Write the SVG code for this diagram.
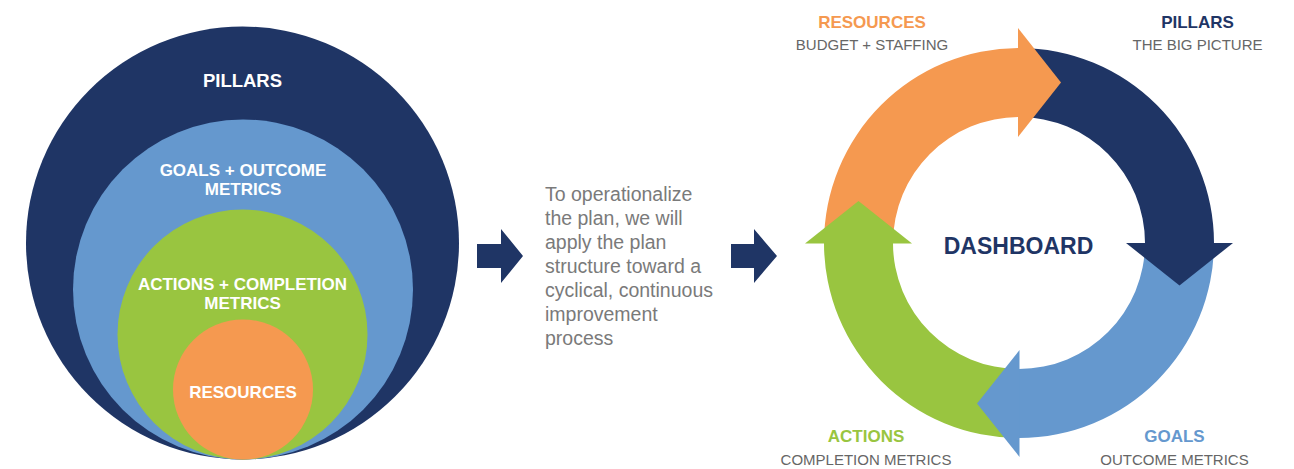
<svg xmlns="http://www.w3.org/2000/svg" width="1294" height="469" viewBox="0 0 1294 469">
  <style>
    .navy { fill: #1f3565; }
    .blue { fill: #6598ce; }
    .green { fill: #99c540; }
    .orange { fill: #f59950; }
    .in { font-family: "Liberation Sans", Arial, sans-serif; font-weight: bold; fill: #ffffff; text-anchor: middle; font-size: 17px; }
    .body { font-family: "Liberation Sans", Arial, sans-serif; font-size: 19.5px; fill: #7a7a7a; }
    .head { font-family: "Liberation Sans", Arial, sans-serif; font-weight: bold; font-size: 17px; text-anchor: middle; }
    .sub { font-family: "Liberation Sans", Arial, sans-serif; font-size: 15px; fill: #666666; text-anchor: middle; }
  </style>
  <rect width="1294" height="469" fill="#ffffff"/>

  <!-- Nested plan structure -->
  <g id="nest-pillars">
    <circle class="navy" cx="242.5" cy="243" r="216.5"/>
    <text class="in" x="242.5" y="87" style="font-size:18.5px">PILLARS</text>
  </g>
  <g id="nest-goals">
    <circle class="blue" cx="243" cy="289.5" r="170"/>
    <text class="in" x="243" y="175.5">GOALS + OUTCOME</text>
    <text class="in" x="243" y="195">METRICS</text>
  </g>
  <g id="nest-actions">
    <circle class="green" cx="242.5" cy="334.5" r="125"/>
    <text class="in" x="242.5" y="290">ACTIONS + COMPLETION</text>
    <text class="in" x="242.5" y="309">METRICS</text>
  </g>
  <g id="nest-resources">
    <circle class="orange" cx="243" cy="389.5" r="70"/>
    <text class="in" x="243" y="398">RESOURCES</text>
  </g>

  <!-- Flow arrows and explanation -->
  <g id="connectors">
    <polygon class="navy" points="477,244 501,244 501,229 523,256 501,283 501,268 477,268"/>
    <polygon class="navy" points="731,244 754,244 754,229 777,256 754,283 754,268 731,268"/>
  </g>
  <g id="explanation">
    <text class="body" x="545" y="200.5">To operationalize</text>
    <text class="body" x="545" y="224.5">the plan, we will</text>
    <text class="body" x="545" y="248.5">apply the plan</text>
    <text class="body" x="545" y="272.5">structure toward a</text>
    <text class="body" x="545" y="296.5">cyclical, continuous</text>
    <text class="body" x="545" y="320.5">improvement</text>
    <text class="body" x="545" y="344.5">process</text>
  </g>

  <!-- Continuous improvement cycle: ring quarters, then arrowheads on top -->
  <g id="cycle">
    <path class="orange" d="M824,243 A195,195 0 0 1 1019,48 L1019,117 A126,126 0 0 0 893,243 Z"/>
    <path class="navy" d="M1019,48 A195,195 0 0 1 1214,243 L1145,243 A126,126 0 0 0 1019,117 Z"/>
    <path class="blue" d="M1214,243 A195,195 0 0 1 1019,438 L1019,369 A126,126 0 0 0 1145,243 Z"/>
    <path class="green" d="M1019,438 A195,195 0 0 1 824,243 L893,243 A126,126 0 0 0 1019,369 Z"/>
    <polygon class="orange" points="1018,28 1061,82.5 1018,137"/>
    <polygon class="navy" points="1126,243 1233,243 1179.5,285.5"/>
    <polygon class="blue" points="1019.5,350 1019.5,457 977,403.5"/>
    <polygon class="green" points="805,243.5 912,243.5 858.5,201"/>
    <text x="1018.5" y="254" style="font-family:'Liberation Sans', Arial, sans-serif; font-weight:bold; font-size:23px; fill:#1f3565; text-anchor:middle">DASHBOARD</text>
  </g>

  <g id="label-resources">
    <text class="head" x="872" y="28" fill="#f59950">RESOURCES</text>
    <text class="sub" x="872" y="50">BUDGET + STAFFING</text>
  </g>
  <g id="label-pillars">
    <text class="head" x="1197.5" y="28" fill="#1f3565">PILLARS</text>
    <text class="sub" x="1197.5" y="50">THE BIG PICTURE</text>
  </g>
  <g id="label-actions">
    <text class="head" x="866" y="442" fill="#99c540">ACTIONS</text>
    <text class="sub" x="866" y="465">COMPLETION METRICS</text>
  </g>
  <g id="label-goals">
    <text class="head" x="1174.5" y="442" fill="#6598ce">GOALS</text>
    <text class="sub" x="1174.5" y="465">OUTCOME METRICS</text>
  </g>
</svg>
